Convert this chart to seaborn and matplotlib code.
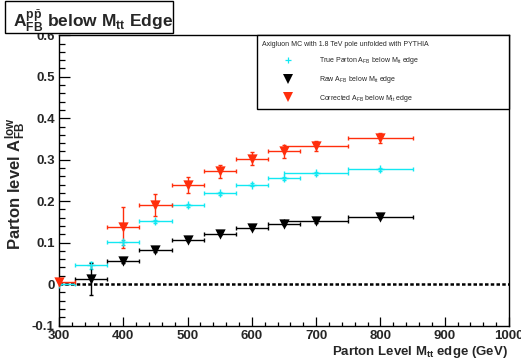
import numpy as np
import pandas as pd
import matplotlib
matplotlib.use("Agg")
import matplotlib.pyplot as plt
from matplotlib.lines import Line2D
from matplotlib.patches import Rectangle
import seaborn as sns

# ---- data ----
mtt_edge = [300, 350, 400, 450, 500, 550, 600, 650, 700, 800]
bin_halfwidth = [25, 25, 25, 25, 25, 25, 25, 25, 50, 50]

true_afb = [0.000, 0.045, 0.101, 0.151, 0.190, 0.219, 0.240, 0.255, 0.267, 0.277]
true_err = [0.002, 0.008, 0.006, 0.004, 0.004, 0.004, 0.004, 0.004, 0.004, 0.004]

raw_afb = [np.nan, 0.012, 0.055, 0.081, 0.106, 0.121, 0.135, 0.145, 0.151, 0.162]
raw_err = [np.nan, 0.038, 0.004, 0.003, 0.003, 0.003, 0.003, 0.003, 0.003, 0.003]

corr_afb = [0.005, np.nan, 0.137, 0.190, 0.239, 0.272, 0.302, 0.320, 0.333, 0.353]
corr_err = [0.003, np.nan, 0.049, 0.027, 0.019, 0.016, 0.016, 0.015, 0.013, 0.012]

legend_header = "Axigluon MC with 1.8 TeV pole unfolded with PYTHIA"
series_labels = [r"True Parton A$_{\mathrm{FB}}$ below M$_{\mathrm{tt}}$ edge",
                 r"Raw A$_{\mathrm{FB}}$ below M$_{\mathrm{tt}}$ edge",
                 r"Corrected A$_{\mathrm{FB}}$ below M$_{\mathrm{tt}}$ edge"]
x_ticks = [300, 400, 500, 600, 700, 800, 900, 1000]
y_ticks = [-0.1, 0.0, 0.1, 0.2, 0.3, 0.4, 0.5, 0.6]
y_ticklabels = ["-0.1", "0", "0.1", "0.2", "0.3", "0.4", "0.5", "0.6"]

CYAN = "#12e8f2"
RED = "#ff2e0c"
BLACK = "#000000"

sns.set_style("ticks")
plt.rcParams["font.family"] = ["Liberation Sans", "DejaVu Sans"]
plt.rcParams["mathtext.fontset"] = "custom"
plt.rcParams["mathtext.rm"] = "Liberation Sans"
plt.rcParams["mathtext.it"] = "Liberation Sans:italic"
plt.rcParams["mathtext.bf"] = "Liberation Sans:bold"

fig = plt.figure(figsize=(5.21, 3.6), dpi=100)
W, H = 521.0, 360.0
ax = fig.add_axes([59 / W, (H - 325.5) / H, 450 / W, 290.2 / H])

df = pd.DataFrame({
    "mtt": mtt_edge * 3,
    "afb": true_afb + raw_afb + corr_afb,
    "series": ["true"] * 10 + ["raw"] * 10 + ["corr"] * 10,
})

ax.axhline(0, color="black", lw=1.8, ls=(0, (1.4, 0.9)), zorder=1)

for y, e, c in [(true_afb, true_err, CYAN), (raw_afb, raw_err, BLACK), (corr_afb, corr_err, RED)]:
    ax.errorbar(mtt_edge, y, xerr=bin_halfwidth, yerr=e, fmt="none", ecolor=c,
                elinewidth=1.0, capsize=1.6, capthick=1.0, zorder=2)

sns.scatterplot(data=df[df.series == "true"], x="mtt", y="afb", ax=ax, marker="+",
                color=CYAN, s=30, linewidth=1.0, zorder=3, legend=False)
sns.scatterplot(data=df[df.series == "raw"], x="mtt", y="afb", ax=ax, marker="v",
                color=BLACK, s=55, linewidth=0, zorder=3, legend=False)
sns.scatterplot(data=df[df.series == "corr"], x="mtt", y="afb", ax=ax, marker="v",
                color=RED, s=55, linewidth=0, zorder=4, legend=False, clip_on=False)

ax.set_xlim(300, 1000)
ax.set_ylim(-0.1, 0.6)
ax.set_xticks(x_ticks)
ax.set_xticklabels([str(t) for t in x_ticks])
ax.set_yticks(y_ticks)
ax.set_yticklabels(y_ticklabels)
ax.set_xticks(np.arange(300, 1001, 20), minor=True)
ax.set_yticks(np.arange(-0.1, 0.6001, 0.02), minor=True)

for lab in ax.get_xticklabels() + ax.get_yticklabels():
    lab.set_fontweight("bold")
    lab.set_fontsize(9.5)

ax.tick_params(axis="both", which="both", direction="in", top=False, right=False, color="black")
ax.tick_params(axis="x", which="major", length=6.5, width=0.9, pad=3)
ax.tick_params(axis="x", which="minor", length=3.2, width=0.9)
ax.tick_params(axis="y", which="major", length=8, width=0.9, pad=3)
ax.tick_params(axis="y", which="minor", length=4, width=0.9)
for s in ax.spines.values():
    s.set_linewidth(1.0)
    s.set_color("black")

ax.set_xlabel(r"Parton Level M$_{\mathbf{tt}}$ edge (GeV)", fontsize=9.5, fontweight="bold")
ax.xaxis.set_label_coords(0.998, -0.065)
ax.xaxis.label.set_horizontalalignment("right")
ax.set_ylabel(r"Parton level $\mathbf{A}_{\mathbf{FB}}^{\mathbf{low}}$", fontsize=12, fontweight="bold")
ax.yaxis.set_label_coords(-0.068, 0.49)

handles = [Line2D([], [], marker="+", ls="none", color=CYAN, ms=5, mew=0.9),
           Line2D([], [], marker="v", ls="none", color=BLACK, ms=6.5, mew=0),
           Line2D([], [], marker="v", ls="none", color=RED, ms=6.5, mew=0)]
leg = ax.legend(handles, series_labels, title=legend_header, loc="upper left",
                bbox_to_anchor=(0.439, 0.75, 0.561, 0.25), mode="expand", borderaxespad=0,
                fontsize=5, title_fontsize=5, alignment="left", frameon=True, fancybox=False,
                framealpha=1, edgecolor="black", borderpad=0.8, handlelength=7.4,
                handletextpad=0.77, labelspacing=1.1)
leg.get_frame().set_linewidth(1.0)

# title box
fig.add_artist(Rectangle((5 / W, (H - 33) / H), 168 / W, 32 / H, transform=fig.transFigure,
                         facecolor="white", edgecolor="black", linewidth=1.0, zorder=10))
fig.text(13 / W, (H - 27) / H,
         r"$\mathbf{A}_{\mathbf{FB}}^{\mathbf{p}\bar{\mathbf{p}}}$ below M$_{\mathbf{tt}}$ Edge",
         fontsize=12.5, fontweight="bold", ha="left", va="baseline", zorder=11)

fig.savefig("out.png", dpi=100)
